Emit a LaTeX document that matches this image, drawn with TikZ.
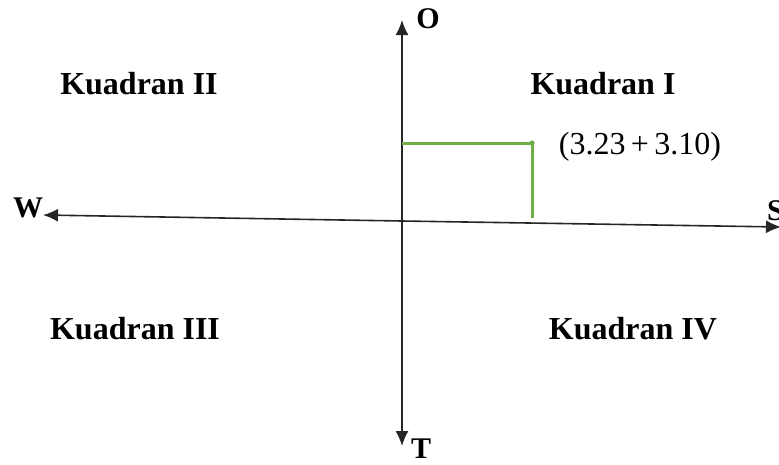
\documentclass[tikz,border=0pt]{standalone}
\usepackage{fontspec}
\setmainfont{Liberation Serif}
\usetikzlibrary{arrows.meta}

\tikzset{
  axis/.style={line width=1.6pt, color=black!85, -{Latex[length=15pt,width=13pt]}},
  quad/.style={font=\fontsize{32}{38}\selectfont\bfseries},
  dir/.style={font=\fontsize{30}{36}\selectfont\bfseries, inner sep=0pt},
  proj/.style={line width=3pt, color=projgreen},
}
\definecolor{projgreen}{RGB}{112,173,71}

\begin{document}
\begin{tikzpicture}[x=1pt,y=-1pt]
\useasboundingbox (0,0) rectangle (779,464);
% axes
\coordinate (origin) at (402,221);
\coordinate (north) at (402,20);
\coordinate (south) at (402,446);
\coordinate (west) at (43,215);
\coordinate (east) at (781,227);
\draw[axis] (origin) -- (north);
\draw[axis] (origin) -- (south);
\draw[axis] (origin) -- (west);
\draw[axis] (origin) -- (east);
\path (428,19) node[dir] (lblO) {O};
\path (421,449) node[dir] (lblT) {T};
\path (28,208) node[dir] (lblW) {W};
\path (767,211) node[dir,anchor=west] (lblS) {S};
% point
\coordinate (ya) at (402,143);
\coordinate (pt) at (532,143);
\coordinate (xa) at (532,218);
\draw[proj] (ya) -- (pt) -- (xa);
\fill[projgreen] (pt) circle (2.6);
\path (640,147) node[font=\fontsize{32}{38}\selectfont] (lblPt) {(3.23\,+\,3.10)};
% quadrants
\path (139,84) node[quad] (q2) {Kuadran II};
\path (603,84) node[quad] (q1) {Kuadran I};
\path (135,329) node[quad] (q3) {Kuadran III};
\path (633,329) node[quad] (q4) {Kuadran IV};
\end{tikzpicture}
\end{document}
